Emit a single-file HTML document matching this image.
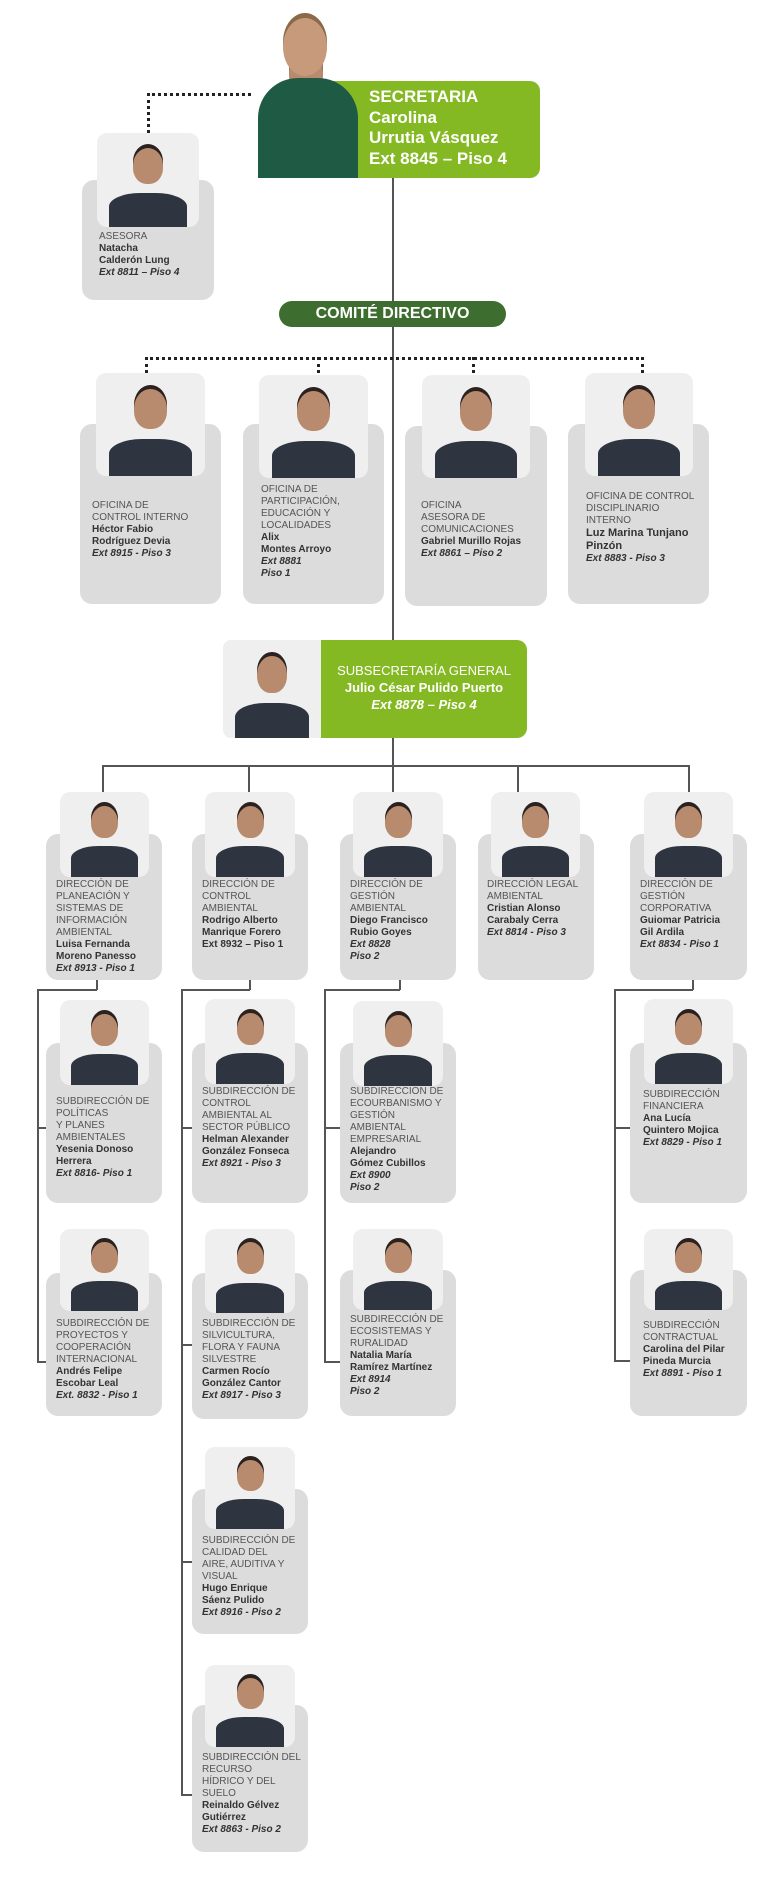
<!DOCTYPE html>
<html><head><meta charset="utf-8"><style>
body{margin:0;background:#fff;width:780px;height:1878px;position:relative;overflow:hidden;font-family:"Liberation Sans",sans-serif}
div{position:absolute;box-sizing:border-box}
.c{background:#dcdcdc;border-radius:12px}
.p{background:#efefef;border-radius:10px;overflow:hidden}
.p::before{content:"";position:absolute;left:50%;top:16%;width:30%;height:38%;margin-left:-15%;background:#b98b6e;border-radius:50% 50% 45% 45%;box-shadow:0 -4px 0 #2b2220}
.p::after{content:"";position:absolute;left:12%;right:12%;bottom:0;height:36%;background:#2e3440;border-radius:40% 40% 0 0}
.t{font-size:10px;line-height:12px;color:#555;white-space:nowrap}
.t b{color:#333}
.t i{color:#333;font-weight:bold}
.l{background:#555}
.d{border:0 dotted #222}
</style></head><body>

<!-- connectors -->
<div class="l" style="left:392px;top:178px;width:1.5px;height:466px"></div>
<div class="d" style="left:147px;top:93px;width:104px;height:40px;border-top-width:3px;border-left-width:3px"></div>
<div class="d" style="left:145px;top:357px;width:499px;height:16px;border-top-width:3px;border-left-width:3px;border-right-width:3px"></div>
<div class="d" style="left:317px;top:357px;width:3px;height:16px;border-left-width:3px"></div>
<div class="d" style="left:472px;top:357px;width:3px;height:16px;border-left-width:3px"></div>

<div class="l" style="left:392px;top:738px;width:1.5px;height:54px"></div>
<div class="l" style="left:102px;top:765px;width:588px;height:1.5px"></div>
<div class="l" style="left:102px;top:765px;width:1.5px;height:27px"></div>
<div class="l" style="left:248px;top:765px;width:1.5px;height:27px"></div>
<div class="l" style="left:517px;top:765px;width:1.5px;height:27px"></div>
<div class="l" style="left:688px;top:765px;width:1.5px;height:27px"></div>

<!-- L3 connectors -->
<div class="l" style="left:96px;top:980px;width:1.5px;height:10px"></div>
<div class="l" style="left:37px;top:989px;width:60px;height:1.5px"></div>
<div class="l" style="left:37px;top:989px;width:1.5px;height:373px"></div>
<div class="l" style="left:37px;top:1127px;width:10px;height:1.5px"></div>
<div class="l" style="left:37px;top:1361px;width:10px;height:1.5px"></div>

<div class="l" style="left:249px;top:980px;width:1.5px;height:10px"></div>
<div class="l" style="left:181px;top:989px;width:69px;height:1.5px"></div>
<div class="l" style="left:181px;top:989px;width:1.5px;height:807px"></div>
<div class="l" style="left:181px;top:1127px;width:11px;height:1.5px"></div>
<div class="l" style="left:181px;top:1344px;width:11px;height:1.5px"></div>
<div class="l" style="left:181px;top:1561px;width:11px;height:1.5px"></div>
<div class="l" style="left:181px;top:1794px;width:11px;height:1.5px"></div>

<div class="l" style="left:399px;top:980px;width:1.5px;height:10px"></div>
<div class="l" style="left:324px;top:989px;width:76px;height:1.5px"></div>
<div class="l" style="left:324px;top:989px;width:1.5px;height:373px"></div>
<div class="l" style="left:324px;top:1127px;width:16px;height:1.5px"></div>
<div class="l" style="left:324px;top:1361px;width:16px;height:1.5px"></div>

<div class="l" style="left:692px;top:980px;width:1.5px;height:10px"></div>
<div class="l" style="left:614px;top:989px;width:79px;height:1.5px"></div>
<div class="l" style="left:614px;top:989px;width:1.5px;height:373px"></div>
<div class="l" style="left:614px;top:1127px;width:16px;height:1.5px"></div>
<div class="l" style="left:614px;top:1360px;width:16px;height:1.5px"></div>

<!-- Secretaria -->
<div style="left:305px;top:81px;width:235px;height:97px;background:#84b924;border-radius:10px"></div>
<div class="p" style="left:250px;top:16px;width:112px;height:162px;background:transparent;border-radius:0"></div>
<div style="left:258px;top:78px;width:100px;height:100px;background:#1f5a44;border-radius:40% 40% 0 0"></div>
<div style="left:283px;top:18px;width:44px;height:58px;background:#c69a7b;border-radius:50%;box-shadow:0 -5px 0 #8a6a48"></div>
<div style="left:369px;top:87px;font-size:17px;line-height:20.5px;font-weight:bold;color:#fff;white-space:nowrap">SECRETARIA<br>Carolina<br>Urrutia Vásquez<br>Ext 8845 – Piso 4</div>

<!-- Asesora -->
<div class="c" style="left:82px;top:180px;width:132px;height:120px"></div>
<div class="p" style="left:97px;top:133px;width:102px;height:94px"></div>
<div class="t" style="left:99px;top:231px">ASESORA<br><b>Natacha<br>Calderón Lung</b><br><i>Ext 8811 – Piso 4</i></div>

<!-- Comite -->
<div style="left:279px;top:301px;width:227px;height:26px;background:#3e6e2f;border-radius:13px;color:#fff;font-weight:bold;font-size:16px;line-height:26px;text-align:center">COMITÉ DIRECTIVO</div>

<!-- top 4 -->
<div class="c" style="left:80px;top:424px;width:141px;height:180px"></div>
<div class="p" style="left:96px;top:373px;width:109px;height:103px"></div>
<div class="t" style="left:92px;top:500px">OFICINA DE<br>CONTROL INTERNO<br><b>Héctor Fabio<br>Rodríguez Devia</b><br><i>Ext 8915 - Piso 3</i></div>

<div class="c" style="left:243px;top:424px;width:141px;height:180px"></div>
<div class="p" style="left:259px;top:375px;width:109px;height:103px"></div>
<div class="t" style="left:261px;top:484px">OFICINA DE<br>PARTICIPACIÓN,<br>EDUCACIÓN Y<br>LOCALIDADES<br><b>Alix<br>Montes Arroyo</b><br><i>Ext 8881<br>Piso 1</i></div>

<div class="c" style="left:405px;top:426px;width:142px;height:180px"></div>
<div class="p" style="left:422px;top:375px;width:108px;height:103px"></div>
<div class="t" style="left:421px;top:500px">OFICINA<br>ASESORA DE<br>COMUNICACIONES<br><b>Gabriel Murillo Rojas</b><br><i>Ext 8861 – Piso 2</i></div>

<div class="c" style="left:568px;top:424px;width:141px;height:180px"></div>
<div class="p" style="left:585px;top:373px;width:108px;height:103px"></div>
<div class="t" style="left:586px;top:491px">OFICINA DE CONTROL<br>DISCIPLINARIO<br>INTERNO<br><b style="font-size:11px;line-height:13px">Luz Marina Tunjano<br>Pinzón</b><br><i>Ext 8883 - Piso 3</i></div>

<!-- Subsecretaria -->
<div style="left:300px;top:640px;width:227px;height:98px;background:#84b924;border-radius:0 10px 10px 0"></div>
<div class="p" style="left:223px;top:640px;width:98px;height:98px;border-radius:8px 0 0 8px"></div>
<div style="left:321px;top:662px;width:206px;text-align:center;color:#fff;font-size:13px;line-height:17px;white-space:nowrap">SUBSECRETARÍA GENERAL<br><b>Julio César Pulido Puerto</b><br><b><i>Ext 8878 – Piso 4</i></b></div>

<!-- L2 -->
<div class="c" style="left:46px;top:834px;width:116px;height:146px"></div>
<div class="p" style="left:60px;top:792px;width:89px;height:85px"></div>
<div class="t" style="left:56px;top:879px">DIRECCIÓN DE<br>PLANEACIÓN Y<br>SISTEMAS DE<br>INFORMACIÓN<br>AMBIENTAL<br><b>Luisa Fernanda<br>Moreno Panesso</b><br><i>Ext 8913 - Piso 1</i></div>

<div class="c" style="left:192px;top:834px;width:116px;height:146px"></div>
<div class="p" style="left:205px;top:792px;width:90px;height:85px"></div>
<div class="t" style="left:202px;top:879px">DIRECCIÓN DE<br>CONTROL<br>AMBIENTAL<br><b>Rodrigo Alberto<br>Manrique Forero<br>Ext 8932 – Piso 1</b></div>

<div class="c" style="left:340px;top:834px;width:116px;height:146px"></div>
<div class="p" style="left:353px;top:792px;width:90px;height:85px"></div>
<div class="t" style="left:350px;top:879px">DIRECCIÓN DE<br>GESTIÓN<br>AMBIENTAL<br><b>Diego Francisco<br>Rubio Goyes</b><br><i>Ext 8828<br>Piso 2</i></div>

<div class="c" style="left:478px;top:834px;width:116px;height:146px"></div>
<div class="p" style="left:491px;top:792px;width:89px;height:85px"></div>
<div class="t" style="left:487px;top:879px">DIRECCIÓN LEGAL<br>AMBIENTAL<br><b>Cristian Alonso<br>Carabaly Cerra</b><br><i>Ext 8814 - Piso 3</i></div>

<div class="c" style="left:630px;top:834px;width:117px;height:146px"></div>
<div class="p" style="left:644px;top:792px;width:89px;height:85px"></div>
<div class="t" style="left:640px;top:879px">DIRECCIÓN DE<br>GESTIÓN<br>CORPORATIVA<br><b>Guiomar Patricia<br>Gil Ardila</b><br><i>Ext 8834 - Piso 1</i></div>

<!-- L3 row1 -->
<div class="c" style="left:46px;top:1043px;width:116px;height:160px"></div>
<div class="p" style="left:60px;top:1000px;width:89px;height:85px"></div>
<div class="t" style="left:56px;top:1096px">SUBDIRECCIÓN DE<br>POLÍTICAS<br>Y PLANES<br>AMBIENTALES<br><b>Yesenia Donoso<br>Herrera</b><br><i>Ext 8816- Piso 1</i></div>

<div class="c" style="left:192px;top:1043px;width:116px;height:160px"></div>
<div class="p" style="left:205px;top:999px;width:90px;height:85px"></div>
<div class="t" style="left:202px;top:1086px">SUBDIRECCIÓN DE<br>CONTROL<br>AMBIENTAL AL<br>SECTOR PÚBLICO<br><b>Helman Alexander<br>González Fonseca</b><br><i>Ext 8921 - Piso 3</i></div>

<div class="c" style="left:340px;top:1043px;width:116px;height:160px"></div>
<div class="p" style="left:353px;top:1001px;width:90px;height:85px"></div>
<div class="t" style="left:350px;top:1086px">SUBDIRECCIÓN DE<br>ECOURBANISMO Y<br>GESTIÓN<br>AMBIENTAL<br>EMPRESARIAL<br><b>Alejandro<br>Gómez Cubillos</b><br><i>Ext 8900<br>Piso 2</i></div>

<div class="c" style="left:630px;top:1043px;width:117px;height:160px"></div>
<div class="p" style="left:644px;top:999px;width:89px;height:85px"></div>
<div class="t" style="left:643px;top:1089px">SUBDIRECCIÓN<br>FINANCIERA<br><b>Ana Lucía<br>Quintero Mojica</b><br><i>Ext 8829 - Piso 1</i></div>

<!-- L3 row2 -->
<div class="c" style="left:46px;top:1273px;width:116px;height:143px"></div>
<div class="p" style="left:60px;top:1229px;width:89px;height:82px"></div>
<div class="t" style="left:56px;top:1318px">SUBDIRECCIÓN DE<br>PROYECTOS Y<br>COOPERACIÓN<br>INTERNACIONAL<br><b>Andrés Felipe<br>Escobar Leal</b><br><i>Ext. 8832 - Piso 1</i></div>

<div class="c" style="left:192px;top:1273px;width:116px;height:146px"></div>
<div class="p" style="left:205px;top:1229px;width:90px;height:84px"></div>
<div class="t" style="left:202px;top:1318px">SUBDIRECCIÓN DE<br>SILVICULTURA,<br>FLORA Y FAUNA<br>SILVESTRE<br><b>Carmen Rocío<br>González Cantor</b><br><i>Ext 8917 - Piso 3</i></div>

<div class="c" style="left:340px;top:1270px;width:116px;height:146px"></div>
<div class="p" style="left:353px;top:1229px;width:90px;height:81px"></div>
<div class="t" style="left:350px;top:1314px">SUBDIRECCIÓN DE<br>ECOSISTEMAS Y<br>RURALIDAD<br><b>Natalia María<br>Ramírez Martínez</b><br><i>Ext 8914<br>Piso 2</i></div>

<div class="c" style="left:630px;top:1270px;width:117px;height:146px"></div>
<div class="p" style="left:644px;top:1229px;width:89px;height:81px"></div>
<div class="t" style="left:643px;top:1320px">SUBDIRECCIÓN<br>CONTRACTUAL<br><b>Carolina del Pilar<br>Pineda Murcia</b><br><i>Ext 8891 - Piso 1</i></div>

<!-- col2 row3/4 -->
<div class="c" style="left:192px;top:1489px;width:116px;height:145px"></div>
<div class="p" style="left:205px;top:1447px;width:90px;height:82px"></div>
<div class="t" style="left:202px;top:1535px">SUBDIRECCIÓN DE<br>CALIDAD DEL<br>AIRE, AUDITIVA Y<br>VISUAL<br><b>Hugo Enrique<br>Sáenz Pulido</b><br><i>Ext 8916 - Piso 2</i></div>

<div class="c" style="left:192px;top:1705px;width:116px;height:147px"></div>
<div class="p" style="left:205px;top:1665px;width:90px;height:82px"></div>
<div class="t" style="left:202px;top:1752px">SUBDIRECCIÓN DEL<br>RECURSO<br>HÍDRICO Y DEL<br>SUELO<br><b>Reinaldo Gélvez<br>Gutiérrez</b><br><i>Ext 8863 - Piso 2</i></div>

</body></html>
